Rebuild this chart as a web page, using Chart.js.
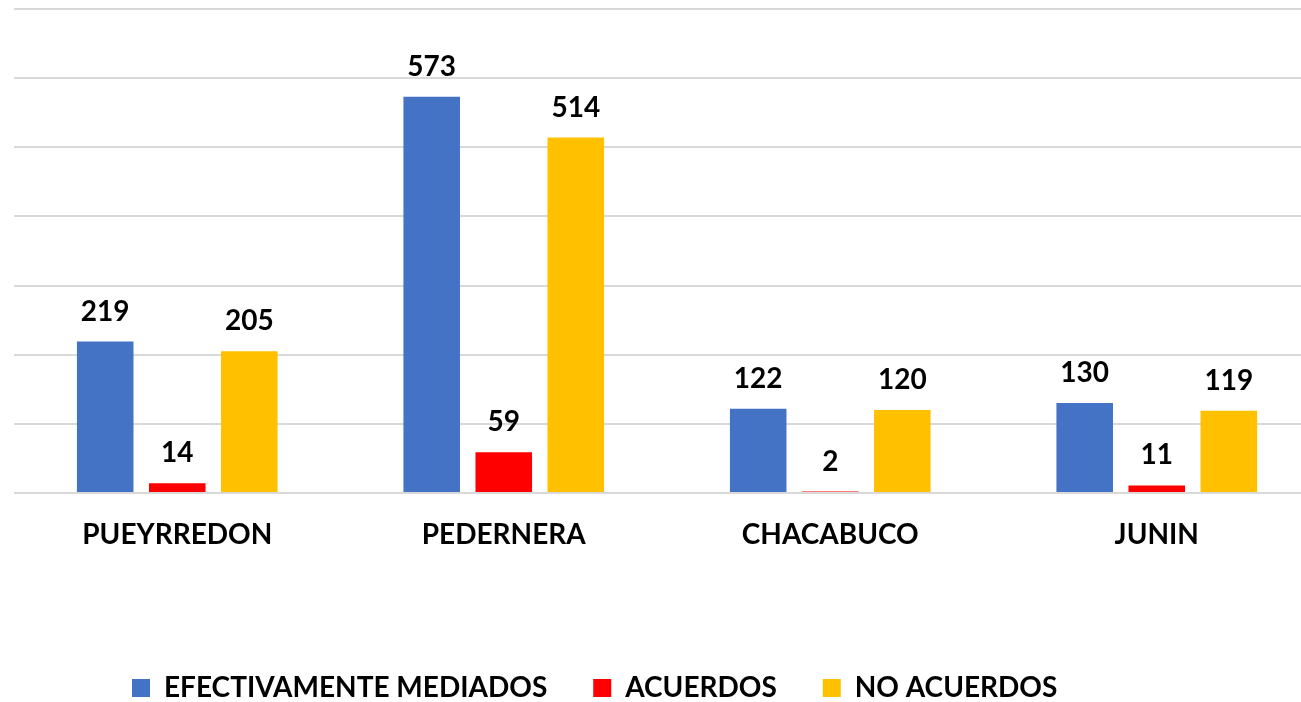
<!DOCTYPE html>
<html>
<head>
<meta charset="utf-8">
<script src="https://cdn.jsdelivr.net/npm/chart.js@4"></script>
<style>
    html, body { margin: 0; padding: 0; background: #fff; overflow: hidden; }
    #wrap { width: 1330px; height: 702px; position: relative; }
</style>
</head>
<body>
<div id="wrap"><canvas id="chart"></canvas></div>
<script>
// data
const categories = ['PUEYRREDON', 'PEDERNERA', 'CHACABUCO', 'JUNIN'];
const mediados = [219, 573, 122, 130];
const acuerdos = [14, 59, 2, 11];
const noAcuerdos = [205, 514, 120, 119];
const seriesNames = ['EFECTIVAMENTE MEDIADOS', 'ACUERDOS', 'NO ACUERDOS'];
const yMax = 700;
const yStep = 100;

const FONT = 'Lato, "Open Sans", sans-serif';
const LEGEND_Y = 688;   // middle of the legend row

// value labels above each bar
const valueLabels = {
    id: 'valueLabels',
    afterDatasetsDraw(chart) {
        const ctx = chart.ctx;
        ctx.save();
        ctx.font = 'bold 28px ' + FONT;
        ctx.fillStyle = '#000';
        ctx.textAlign = 'center';
        ctx.textBaseline = 'alphabetic';
        chart.data.datasets.forEach((ds, i) => {
            chart.getDatasetMeta(i).data.forEach((bar, j) => {
                ctx.fillText(ds.data[j], bar.x, bar.y - 21);
            });
        });
        ctx.restore();
    }
};

// move the legend where the original had it
const legendShift = {
    id: 'legendShift',
    afterLayout(chart) {
        const lg = chart.legend;
        const pad = lg.options.labels.padding;
        const dy = LEGEND_Y - 14 - pad - lg.top;
        const dx = 132 - pad - lg.left;
        lg.left += dx; lg.right += dx;
        lg.top += dy; lg.bottom += dy;
    }
};

new Chart(document.getElementById('chart'), {
    type: 'bar',
    data: {
        labels: categories,
        datasets: [
            { label: seriesNames[0], data: mediados, backgroundColor: '#4472C4' },
            { label: seriesNames[1], data: acuerdos, backgroundColor: '#FF0000' },
            { label: seriesNames[2], data: noAcuerdos, backgroundColor: '#FFC000' }
        ]
    },
    options: {
        responsive: true,
        maintainAspectRatio: false,
        animation: false,
        devicePixelRatio: 1,
        categoryPercentage: 0.662,
        barPercentage: 0.785,
        layout: { padding: { left: 14, right: 10, top: 9, bottom: 0 } },
        plugins: {
            legend: {
                position: 'bottom',
                align: 'start',
                labels: {
                    boxWidth: 18,
                    boxHeight: 18,
                    padding: 46,
                    color: '#000',
                    font: { family: FONT, size: 28, weight: 'bold' }
                }
            },
            tooltip: { enabled: false }
        },
        scales: {
            x: {
                grid: { display: false },
                border: { display: false },
                ticks: {
                    padding: 17,
                    color: '#000',
                    font: { family: FONT, size: 28, weight: 'bold' }
                },
                afterFit(scale) { scale.height = 125; }
            },
            y: {
                min: 0,
                max: yMax,
                ticks: { display: false, stepSize: yStep },
                grid: { color: '#D9D9D9', lineWidth: 2, drawTicks: false },
                border: { display: false }
            }
        }
    },
    plugins: [valueLabels, legendShift]
});
</script>
</body>
</html>
